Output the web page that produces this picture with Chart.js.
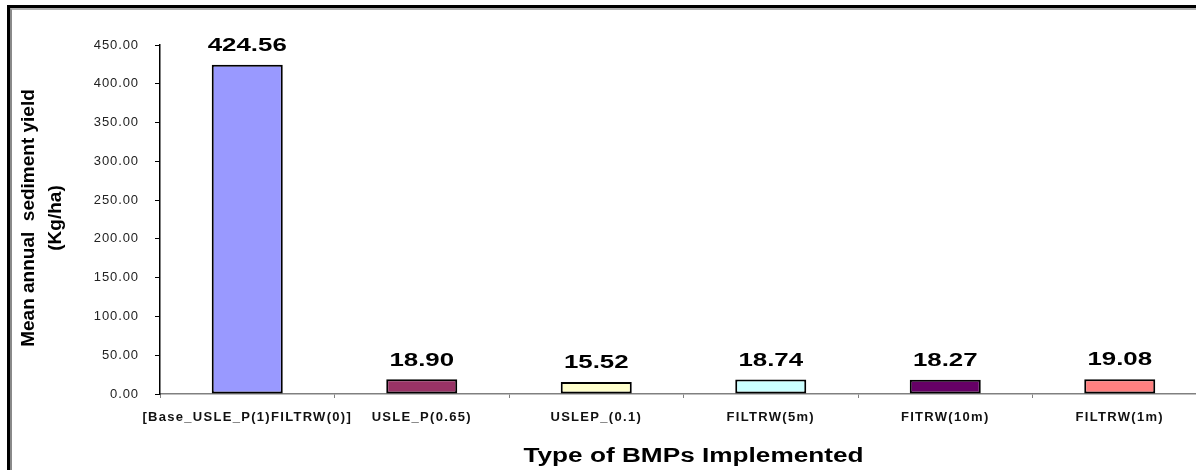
<!DOCTYPE html>
<html>
<head>
<meta charset="utf-8">
<script src="https://cdn.jsdelivr.net/npm/chart.js@4.4.1/dist/chart.umd.min.js"></script>
<style>
  html, body { margin: 0; padding: 0; background: #fff; overflow: hidden; }
  #wrap { position: relative; width: 1196px; height: 470px; overflow: hidden; }
  #frame {
    position: absolute; left: 7px; top: 5px; width: 1300px; height: 480px;
    border-left: 3px solid #000; border-top: 3px solid #000;
    box-sizing: border-box;
  }
  #frame::after {
    content: ""; position: absolute; left: 0; top: 0; right: 0; bottom: 0;
    border-left: 2px solid #8a8a8a; border-top: 2px solid #b0b0b0;
  }
  #holder { position: absolute; left: 0; top: 0; width: 1207px; height: 470px; }
</style>
</head>
<body>
<div id="wrap">
  <div id="holder"><canvas id="c"></canvas></div>
  <div id="frame"></div>
</div>
<script>
// Mean annual sediment yield for each BMP scenario
const categories = [
  "[Base_USLE_P(1)FILTRW(0)]",
  "USLE_P(0.65)",
  "USLEP_(0.1)",
  "FILTRW(5m)",
  "FITRW(10m)",
  "FILTRW(1m)"
];
const sedimentYield = [424.56, 18.90, 15.52, 18.74, 18.27, 19.08];
const barColors = ["#9999FF", "#993366", "#FFFFCC", "#CCFFFF", "#660066", "#FF8080"];
const yTicks = [0, 50, 100, 150, 200, 250, 300, 350, 400, 450];
const yTitle = ["Mean annual  sediment yield", "(Kg/ha)"];
const xTitle = "Type of BMPs Implemented";

const FONT = "Arial, 'Liberation Sans', sans-serif";

// draw a scale's tick labels with extra letter spacing (wide Excel-style text)
function spaceLabels(scale, spacing) {
  if (scale._spaced) return;
  scale._spaced = true;
  const orig = scale.drawLabels;
  scale.drawLabels = function (area) {
    const ctx = this.ctx;
    ctx.save();
    ctx.letterSpacing = spacing;
    orig.call(this, area);
    ctx.restore();
  };
}

// text stretched horizontally around (x, y)
function wideText(ctx, text, x, y, sx) {
  ctx.save();
  ctx.translate(x, y);
  ctx.scale(sx, 1);
  ctx.fillText(text, 0, 0);
  ctx.restore();
}

// value labels above bars plus the two axis titles
const annotate = {
  id: "annotate",
  afterDatasetsDraw(chart) {
    const ctx = chart.ctx;
    const meta = chart.getDatasetMeta(0);
    ctx.save();
    ctx.fillStyle = "#000";
    ctx.textAlign = "center";
    ctx.textBaseline = "middle";
    ctx.font = "bold 19px " + FONT;
    meta.data.forEach((bar, i) => {
      wideText(ctx, sedimentYield[i].toFixed(2), bar.x, bar.y - 19, 1.36);
    });

    // y axis title, rotated
    ctx.save();
    ctx.font = "bold 19px " + FONT;
    ctx.translate(29, 218);
    ctx.rotate(-Math.PI / 2);
    ctx.fillText(yTitle[0], 0, 0);
    ctx.fillText(yTitle[1], 0, 27);
    ctx.restore();

    // x axis title
    ctx.font = "bold 20px " + FONT;
    const area = chart.chartArea;
    wideText(ctx, xTitle, (area.left + area.right) / 2 + 10, 456, 1.31);
    ctx.restore();
  }
};

new Chart(document.getElementById("c"), {
  type: "bar",
  data: {
    labels: categories,
    datasets: [{
      data: sedimentYield,
      backgroundColor: barColors,
      borderColor: "#000",
      borderWidth: 2,
      borderSkipped: false,
      categoryPercentage: 1,
      barPercentage: 0.407
    }]
  },
  options: {
    responsive: true,
    maintainAspectRatio: false,
    animation: false,
    devicePixelRatio: 1,
    layout: { padding: { top: 45, right: 0, bottom: 0, left: 0 } },
    plugins: { legend: { display: false }, tooltip: { enabled: false } },
    scales: {
      x: {
        offset: true,
        afterFit(s) { s.height = 76; spaceLabels(s, "1.3px"); },
        border: { display: true, color: "#808080", width: 1.5 },
        grid: { display: true, drawOnChartArea: false, offset: true, tickLength: 4, color: "#808080" },
        ticks: {
          color: "#111",
          font: { family: FONT, size: 13, weight: "bold" },
          padding: 12,
          maxRotation: 0,
          autoSkip: false
        }
      },
      y: {
        min: 0,
        max: 450,
        afterFit(s) { s.width = 160; spaceLabels(s, "0.9px"); },
        afterBuildTicks(s) { s.ticks = yTicks.map(v => ({ value: v })); },
        border: { display: true, color: "#000", width: 1.5 },
        grid: { display: true, drawOnChartArea: false, tickLength: 5, color: "#000" },
        ticks: {
          color: "#222",
          font: { family: FONT, size: 13 },
          padding: 16,
          callback: v => Number(v).toFixed(2)
        }
      }
    }
  },
  plugins: [annotate]
});
</script>
</body>
</html>
